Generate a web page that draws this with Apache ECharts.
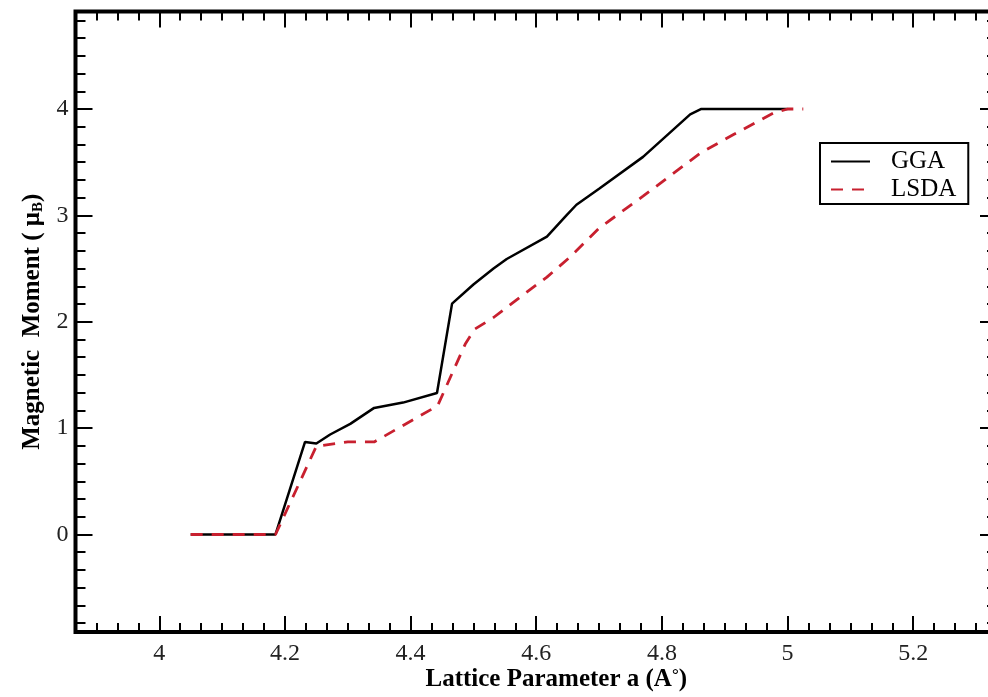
<!DOCTYPE html>
<html>
<head>
<meta charset="utf-8">
<script src="https://cdn.jsdelivr.net/npm/echarts@6/dist/echarts.min.js"></script>
<style>
html,body{margin:0;padding:0;background:#fff;}
#chart{width:988px;height:697px;}
</style>
</head>
<body>
<div id="chart"></div>
<script>
// ---- data ----
const seriesNames = ['GGA', 'LSDA'];
const ggaX = [4.05, 4.185, 4.232, 4.25, 4.272, 4.304, 4.342, 4.388, 4.442, 4.466, 4.50, 4.532, 4.553, 4.617, 4.648, 4.664, 4.70, 4.77, 4.845, 4.862, 5.0];
const ggaY = [0, 0, 0.87, 0.855, 0.94, 1.04, 1.19, 1.24, 1.33, 2.17, 2.35, 2.50, 2.59, 2.80, 3.00, 3.10, 3.25, 3.55, 3.95, 4.0, 4.0];
const lsdaX = [4.05, 4.185, 4.25, 4.30, 4.342, 4.443, 4.468, 4.487, 4.502, 4.532, 4.574, 4.617, 4.654, 4.70, 4.77, 4.861, 4.914, 4.977, 5.0, 5.025];
const lsdaY = [0, 0, 0.83, 0.87, 0.87, 1.21, 1.54, 1.79, 1.93, 2.04, 2.23, 2.42, 2.61, 2.88, 3.18, 3.585, 3.76, 3.96, 4.0, 4.0];
const xTicks = [4, 4.2, 4.4, 4.6, 4.8, 5, 5.2];
const yTicks = [0, 1, 2, 3, 4];
const xRange = [116 / 30, 160 / 30];
const yRange = [-11 / 12, 59 / 12];
const xMinorStep = 1 / 30;
const yMinorStep = 1 / 6;

// ---- build ----
const zip = (a, b) => a.map((v, i) => [v, b[i]]);
const FONT = 'Liberation Serif';
const near = (v, arr) => arr.some(t => Math.abs(t - v) < 1e-6);

const yBands = Math.round((yRange[1] - yRange[0]) / (yMinorStep / 2));
const yBandCats = Array.from({length: yBands}, (_, i) => String(i));

function majorX(pos, labels) {
  return {
    type: 'value', position: pos, min: xRange[0], max: xRange[1], splitNumber: 7,
    axisLine: {show: false, onZero: false},
    axisTick: {show: true, inside: true, length: 16, lineStyle: {color: '#000', width: 2}},
    axisLabel: {show: labels, margin: 10, color: '#222', fontFamily: FONT, fontSize: 24,
      formatter: v => near(v, xTicks) ? String(+v.toFixed(1)) : ''},
    splitLine: {show: false}
  };
}
function minorX(pos) {
  return {
    type: 'value', position: pos, min: xRange[0], max: xRange[1], interval: xMinorStep,
    axisLine: {show: false, onZero: false},
    axisTick: {show: true, inside: true, length: 9, lineStyle: {color: '#000', width: 2}},
    axisLabel: {show: false}, splitLine: {show: false}
  };
}
function majorY(pos, labels) {
  return {
    type: 'value', position: pos, min: yRange[0], max: yRange[1], splitNumber: 6,
    axisLine: {show: false, onZero: false},
    axisTick: {show: true, inside: true, length: 17, lineStyle: {color: '#000', width: 2}},
    axisLabel: {show: labels, margin: 7, color: '#222', fontFamily: FONT, fontSize: 24,
      formatter: v => near(v, yTicks) ? String(Math.round(v)) : ''},
    splitLine: {show: false}
  };
}
function minorY(pos) {
  return {
    type: 'category', position: pos, data: yBandCats, boundaryGap: true,
    axisLine: {show: false, onZero: false},
    axisTick: {show: true, inside: true, length: 10, interval: (i) => i % 2 === 1, lineStyle: {color: '#000', width: 2}},
    axisLabel: {show: false}, splitLine: {show: false}
  };
}

const xb = majorX('bottom', true);
xb.name = '{t|Lattice Parameter a (A}{s|°}{t|)}';
xb.nameLocation = 'middle';
xb.nameGap = 35;
xb.nameMoveOverlap = false;
xb.nameTextStyle = {
  padding: [0, 0, 0, 40],
  rich: {
    t: {fontFamily: FONT, fontSize: 25, fontWeight: 'bold', color: '#000'},
    s: {fontFamily: FONT, fontSize: 17, fontWeight: 'bold', color: '#000', verticalAlign: 'top'}
  }
};
const yl = majorY('left', true);
yl.name = '{t|Magnetic  Moment ( }{m|μ}{b|B}{t|)}';
yl.nameLocation = 'middle';
yl.nameRotate = 90;
yl.nameGap = 30;
yl.nameMoveOverlap = false;
yl.nameTextStyle = {
  rich: {
    t: {fontFamily: FONT, fontSize: 25, fontWeight: 'bold', color: '#000'},
    m: {fontFamily: FONT, fontSize: 25, fontWeight: 'bold', color: '#000'},
    b: {fontFamily: FONT, fontSize: 15, fontWeight: 'bold', color: '#000', verticalAlign: 'bottom'}
  }
};

const option = {
  backgroundColor: '#fff',
  animation: false,
  grid: {left: 75.5, top: 11.5, right: -9, bottom: 65, outerBoundsMode: 'none', containLabel: false,
    show: true, borderColor: '#000', borderWidth: 4, backgroundColor: '#fff'},
  legend: {
    data: seriesNames,
    orient: 'vertical', left: 820, top: 143,
    backgroundColor: '#fff', borderColor: '#000', borderWidth: 2,
    padding: [6, 12, 2, 10],
    itemWidth: 39, itemHeight: 14, itemGap: 3,
    itemStyle: {opacity: 0},
    textStyle: {fontFamily: FONT, fontSize: 25, color: '#000', padding: [0, 0, 0, 16]}
  },
  xAxis: [xb, minorX('bottom'), majorX('top', false), minorX('top')],
  yAxis: [yl, minorY('left'), majorY('right', false), minorY('right')],
  series: [
    {name: seriesNames[0], type: 'line', xAxisIndex: 0, yAxisIndex: 0, data: zip(ggaX, ggaY),
      symbol: 'none', lineStyle: {color: '#000', width: 2.5}, itemStyle: {color: '#000'}},
    {name: seriesNames[1], type: 'line', xAxisIndex: 0, yAxisIndex: 0, data: zip(lsdaX, lsdaY),
      symbol: 'none', lineStyle: {color: '#c8202f', width: 2.8, type: [12, 9]}, itemStyle: {color: '#c8202f'}}
  ]
};
const chart = echarts.init(document.getElementById('chart'), null, {renderer: 'canvas'});
chart.setOption(option);
</script>
</body>
</html>
